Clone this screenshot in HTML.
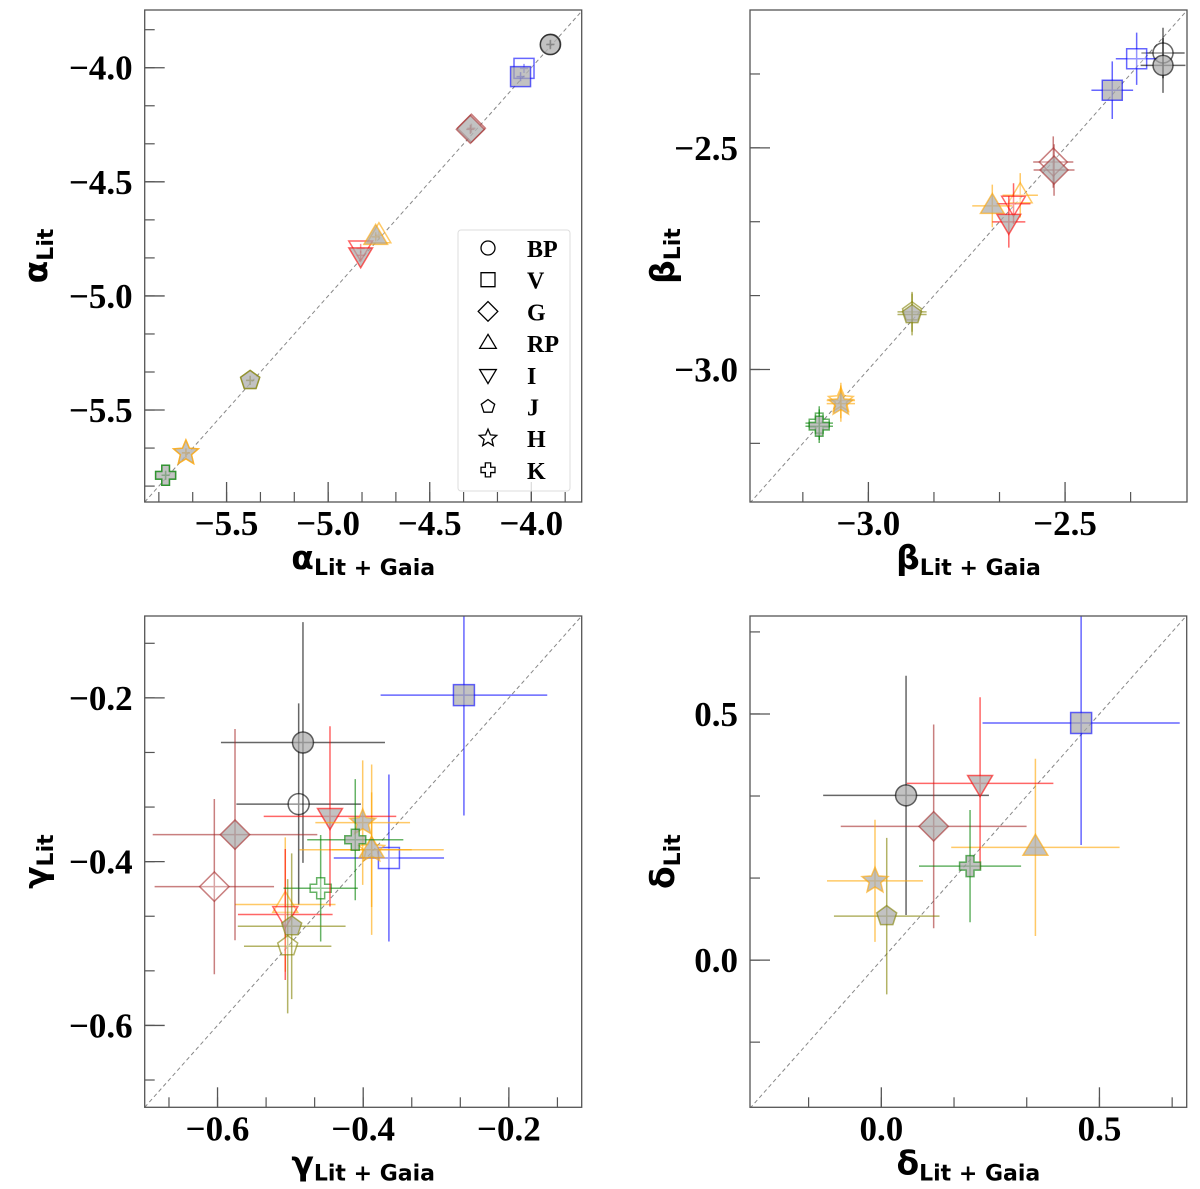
<!DOCTYPE html>
<html><head><meta charset="utf-8"><style>
html,body{margin:0;padding:0;background:#fff;}
svg{display:block;}
.tick{font-family:"Liberation Serif",serif;font-weight:bold;font-size:35px;fill:#000;}
.ttl{font-family:"DejaVu Sans",sans-serif;font-weight:bold;font-size:33px;fill:#000;}
.sub{font-size:22px;}
.leg{font-family:"Liberation Serif",serif;font-weight:bold;font-size:24px;fill:#000;}
</style></head><body>
<svg id="fig" width="1200" height="1189" xmlns="http://www.w3.org/2000/svg"></svg>
<script>
const bands = ['BP','V','G','RP','I','J','H','K'];
const colors = ['black','blue','brown','orange','red','olive','orange','green'];
const shapes = ['circle','square','diamond','tri-up','tri-down','pentagon','star','plus'];

// alpha panel
const alphaFilledX = [-3.907,-4.053,-4.30,-4.766,-4.84,-5.384,-5.70,-5.80];
const alphaFilledY = [-3.899,-4.039,-4.270,-4.741,-4.822,-5.370,-5.688,-5.786];
const alphaOpenX = [-3.905,-4.036,-4.295,-4.750,-4.84,-5.384,-5.70,-5.80];
const alphaOpenY = [-3.897,-4.003,-4.265,-4.734,-4.792,-5.370,-5.688,-5.786];
const alphaErr = [0.02,0.02,0.02,0.02,0.02,0.02,0.02,0.02];
const alphaTicks = [-5.5,-5.0,-4.5,-4.0];
const alphaTickLabels = ['−5.5','−5.0','−4.5','−4.0'];

// beta panel
const betaFilledX = [-2.251,-2.380,-2.528,-2.685,-2.643,-2.889,-3.070,-3.125];
const betaFilledY = [-2.314,-2.370,-2.550,-2.631,-2.667,-2.876,-3.077,-3.128];
const betaFilledXErr = [0.057,0.053,0.052,0.051,0.042,0.037,0.036,0.035];
const betaFilledYErr = [0.062,0.065,0.058,0.048,0.058,0.047,0.041,0.038];
const betaOpenX = [-2.251,-2.318,-2.530,-2.614,-2.631,-2.889,-3.070,-3.125];
const betaOpenY = [-2.286,-2.299,-2.532,-2.607,-2.626,-2.870,-3.070,-3.121];
const betaOpenXErr = [0.055,0.053,0.051,0.045,0.043,0.037,0.036,0.035];
const betaOpenYErr = [0.057,0.059,0.058,0.050,0.046,0.045,0.040,0.038];
const betaXTicks = [-3.0,-2.5];
const betaXTickLabels = ['−3.0','−2.5'];
const betaYTicks = [-3.0,-2.5];
const betaYTickLabels = ['−3.0','−2.5'];

// gamma panel
const gammaFilledX = [-0.4827,-0.2617,-0.576,-0.3884,-0.4456,-0.4982,-0.4007,-0.4109];
const gammaFilledY = [-0.2545,-0.1967,-0.367,-0.3854,-0.3447,-0.4789,-0.3523,-0.3732];
const gammaFilledXErr = [0.1126,0.1144,0.113,0.099,0.091,0.074,0.065,0.066];
const gammaFilledYErr = [0.147,0.147,0.129,0.104,0.110,0.089,0.076,0.074];
const gammaOpenX = [-0.4886,-0.3647,-0.6044,-0.507,-0.507,-0.5037,-0.3884,-0.4584];
const gammaOpenY = [-0.3297,-0.3955,-0.4305,-0.4524,-0.4646,-0.5033,-0.3854,-0.4325];
const gammaOpenXErr = [0.0855,0.0757,0.082,0.069,0.065,0.060,0.055,0.051];
const gammaOpenYErr = [0.123,0.102,0.107,0.082,0.080,0.082,0.070,0.065];
const gammaTicks = [-0.6,-0.4,-0.2];
const gammaTickLabels = ['−0.6','−0.4','−0.2'];

// delta panel
const deltaFilledX = [0.0567,0.458,0.120,0.3532,0.2264,0.0124,-0.0145,0.2034];
const deltaFilledY = [0.3347,0.4817,0.2717,0.229,0.359,0.0894,0.161,0.191];
const deltaFilledXErr = [0.19,0.226,0.213,0.193,0.168,0.121,0.11,0.117];
const deltaFilledYErr = [0.243,0.248,0.207,0.18,0.175,0.159,0.124,0.114];
const deltaTicks = [0.0,0.5];
const deltaTickLabels = ['0.0','0.5'];

const NS='http://www.w3.org/2000/svg';
const fig=document.getElementById('fig');
function mk(tag,attrs,parent){const e=document.createElementNS(NS,tag);for(const k in attrs)e.setAttribute(k,attrs[k]);(parent||fig).appendChild(e);return e;}

function shapePath(shape,cx,cy,s){
  let pts=[];
  if(shape==='square'){return `M${cx-s},${cy-s}H${cx+s}V${cy+s}H${cx-s}Z`;}
  if(shape==='diamond'){s*=1.4;return `M${cx},${cy-s}L${cx+s},${cy}L${cx},${cy+s}L${cx-s},${cy}Z`;}
  if(shape==='tri-up'){s*=1.25;return `M${cx},${cy-s}L${cx+s*0.95},${cy+s*0.6}L${cx-s*0.95},${cy+s*0.6}Z`;}
  if(shape==='tri-down'){s*=1.25;return `M${cx},${cy+s}L${cx+s*0.95},${cy-s*0.6}L${cx-s*0.95},${cy-s*0.6}Z`;}
  if(shape==='pentagon'){for(let i=0;i<5;i++){const a=-Math.PI/2+i*2*Math.PI/5;pts.push([cx+s*Math.cos(a),cy+s*Math.sin(a)]);}}
  if(shape==='star'){s*=1.3;for(let i=0;i<10;i++){const a=-Math.PI/2+i*Math.PI/5;const r=i%2?s*0.45:s;pts.push([cx+r*Math.cos(a),cy+r*Math.sin(a)]);}}
  if(shape==='plus'){const a=s*0.38,b=s;return `M${cx-a},${cy-b}H${cx+a}V${cy-a}H${cx+b}V${cy+a}H${cx+a}V${cy+b}H${cx-a}V${cy+a}H${cx-b}V${cy-a}H${cx-a}Z`;}
  return 'M'+pts.map(p=>p[0].toFixed(1)+','+p[1].toFixed(1)).join('L')+'Z';
}
function marker(g,shape,cx,cy,s,color,filled,name){
  let el;
  if(shape==='circle'){el=mk('circle',{cx:cx,cy:cy,r:s},g);}
  else el=mk('path',{d:shapePath(shape,cx,cy,s)},g);
  el.setAttribute('fill',filled?'#a8a8a8':'#ffffff');
  el.setAttribute('fill-opacity',filled?'0.7':'0.3');
  el.setAttribute('stroke',color);
  el.setAttribute('stroke-opacity','0.6');
  el.setAttribute('stroke-width','1.5');
  
  
  return el;
}

function panel(p){
  const g=mk('g',{});
  
  
  const sx=v=>p.x0+(v-p.xmin)/(p.xmax-p.xmin)*(p.x1-p.x0);
  const sy=v=>p.y1-(v-p.ymin)/(p.ymax-p.ymin)*(p.y1-p.y0);
  const clip='clip-'+p.name;
  const cp=mk('clipPath',{id:clip},g);mk('rect',{x:p.x0,y:p.y0,width:p.x1-p.x0,height:p.y1-p.y0},cp);
  const inner=mk('g',{'clip-path':`url(#${clip})`},g);
  const diag=mk('line',{x1:sx(p.xmin),y1:sy(p.xmin),x2:sx(p.xmax),y2:sy(p.xmax),stroke:'#888','stroke-width':1,'stroke-dasharray':'4,3'},inner);
  
  
  const series=[];
  if(p.ox) series.push({x:p.ox,y:p.oy,xe:p.oxe,ye:p.oye,filled:false});
  series.push({x:p.fx,y:p.fy,xe:p.fxe,ye:p.fye,filled:true});
  series.forEach(s=>{
    for(let i=0;i<bands.length;i++){
      const cx=sx(s.x[i]),cy=sy(s.y[i]);
      const eb=mk('path',{d:`M${sx(s.x[i]-s.xe[i])},${cy}H${sx(s.x[i]+s.xe[i])}M${cx},${sy(s.y[i]-s.ye[i])}V${sy(s.y[i]+s.ye[i])}`,stroke:colors[i],'stroke-opacity':0.6,'stroke-width':1.5,fill:'none'},inner);
      
      
      marker(inner,shapes[i],cx,cy,p.ms,colors[i],s.filled,'marker-'+bands[i].toLowerCase()+(s.filled?'-filled':'-open'));
    }
  });
  const fr=mk('rect',{x:p.x0,y:p.y0,width:p.x1-p.x0,height:p.y1-p.y0,fill:'none',stroke:'#555','stroke-width':1.3},g);
  
  
  const step=p.minor;
  for(let v=Math.ceil(p.xmin/step-1e-6)*step; v<=p.xmax+1e-9; v+=step){
    const X=sx(v);mk('line',{x1:X,x2:X,y1:p.y1,y2:p.y1-10,stroke:'#555','stroke-width':1.2},g);
  }
  for(let v=Math.ceil(p.ymin/step-1e-6)*step; v<=p.ymax+1e-9; v+=step){
    const Y=sy(v);mk('line',{y1:Y,y2:Y,x1:p.x0,x2:p.x0+10,stroke:'#555','stroke-width':1.2},g);
  }
  p.xt.forEach((v,i)=>{
    const X=sx(v);mk('line',{x1:X,x2:X,y1:p.y1,y2:p.y1-20,stroke:'#555','stroke-width':1.3},g);
    const t=mk('text',{x:X,y:p.y1+33,'text-anchor':'middle',class:'tick'},g);t.textContent=p.xtl[i];
    
    
  });
  p.yt.forEach((v,i)=>{
    const Y=sy(v);mk('line',{y1:Y,y2:Y,x1:p.x0,x2:p.x0+20,stroke:'#555','stroke-width':1.3},g);
    const t=mk('text',{x:p.x0-12,y:Y+12,'text-anchor':'end',class:'tick'},g);t.textContent=p.ytl[i];
    
    
  });
  const xt=mk('text',{x:(p.x0+p.x1)/2,y:p.y1+67,'text-anchor':'middle',class:'ttl'},g);
  xt.innerHTML=`${p.sym}<tspan class="sub" dy="6">Lit + Gaia</tspan>`;
  
  
  const yc=(p.y0+p.y1)/2, yx=p.ytx;
  const yt=mk('text',{x:yx,y:yc,'text-anchor':'middle',class:'ttl',transform:`rotate(-90 ${yx} ${yc})`},g);
  yt.innerHTML=`${p.sym}<tspan class="sub" dy="6">Lit</tspan>`;
  
  
}

panel({name:'alpha-panel',x0:144.7,x1:581.7,y0:10,y1:502,xmin:-5.903,xmax:-3.752,ymin:-5.903,ymax:-3.747,minor:0.5/3,
  fx:alphaFilledX,fy:alphaFilledY,fxe:alphaErr,fye:alphaErr,ox:alphaOpenX,oy:alphaOpenY,oxe:alphaErr,oye:alphaErr,
  xt:alphaTicks,xtl:alphaTickLabels,yt:alphaTicks,ytl:alphaTickLabels,sym:'α',ytx:47,ms:10});
panel({name:'beta-panel',x0:750,x1:1187,y0:10,y1:502,xmin:-3.301,xmax:-2.190,ymin:-3.299,ymax:-2.189,minor:0.5/3,
  fx:betaFilledX,fy:betaFilledY,fxe:betaFilledXErr,fye:betaFilledYErr,ox:betaOpenX,oy:betaOpenY,oxe:betaOpenXErr,oye:betaOpenYErr,
  xt:betaXTicks,xtl:betaXTickLabels,yt:betaYTicks,ytl:betaYTickLabels,sym:'β',ytx:674,ms:10});
panel({name:'gamma-panel',x0:144.7,x1:581.7,y0:616,y1:1107.3,xmin:-0.70,xmax:-0.10,ymin:-0.70,ymax:-0.10,minor:0.2/3,
  fx:gammaFilledX,fy:gammaFilledY,fxe:gammaFilledXErr,fye:gammaFilledYErr,ox:gammaOpenX,oy:gammaOpenY,oxe:gammaOpenXErr,oye:gammaOpenYErr,
  xt:gammaTicks,xtl:gammaTickLabels,yt:gammaTicks,ytl:gammaTickLabels,sym:'γ',ytx:47,ms:10.5});
panel({name:'delta-panel',x0:750,x1:1186.7,y0:616,y1:1107.3,xmin:-0.301,xmax:0.70,ymin:-0.299,ymax:0.699,minor:0.5/3,
  fx:deltaFilledX,fy:deltaFilledY,fxe:deltaFilledXErr,fye:deltaFilledYErr,
  xt:deltaTicks,xtl:deltaTickLabels,yt:deltaTicks,ytl:deltaTickLabels,sym:'δ',ytx:674,ms:10.5});

const lg=mk('g',{});


mk('rect',{x:458,y:230,width:112,height:261,rx:3,fill:'#fff','fill-opacity':0.8,stroke:'#ddd','stroke-width':1},lg);
bands.forEach((b,i)=>{
  const y=248+i*31.7;
  const m=marker(lg,shapes[i],488,y,7,'black',false,'legend-marker-'+b.toLowerCase());
  m.setAttribute('stroke-opacity','1');m.setAttribute('stroke-width','1.3');m.setAttribute('fill','none');
  const t=mk('text',{x:527,y:y+9,class:'leg'},lg);t.textContent=b;
  
  
});
</script>
</body></html>
